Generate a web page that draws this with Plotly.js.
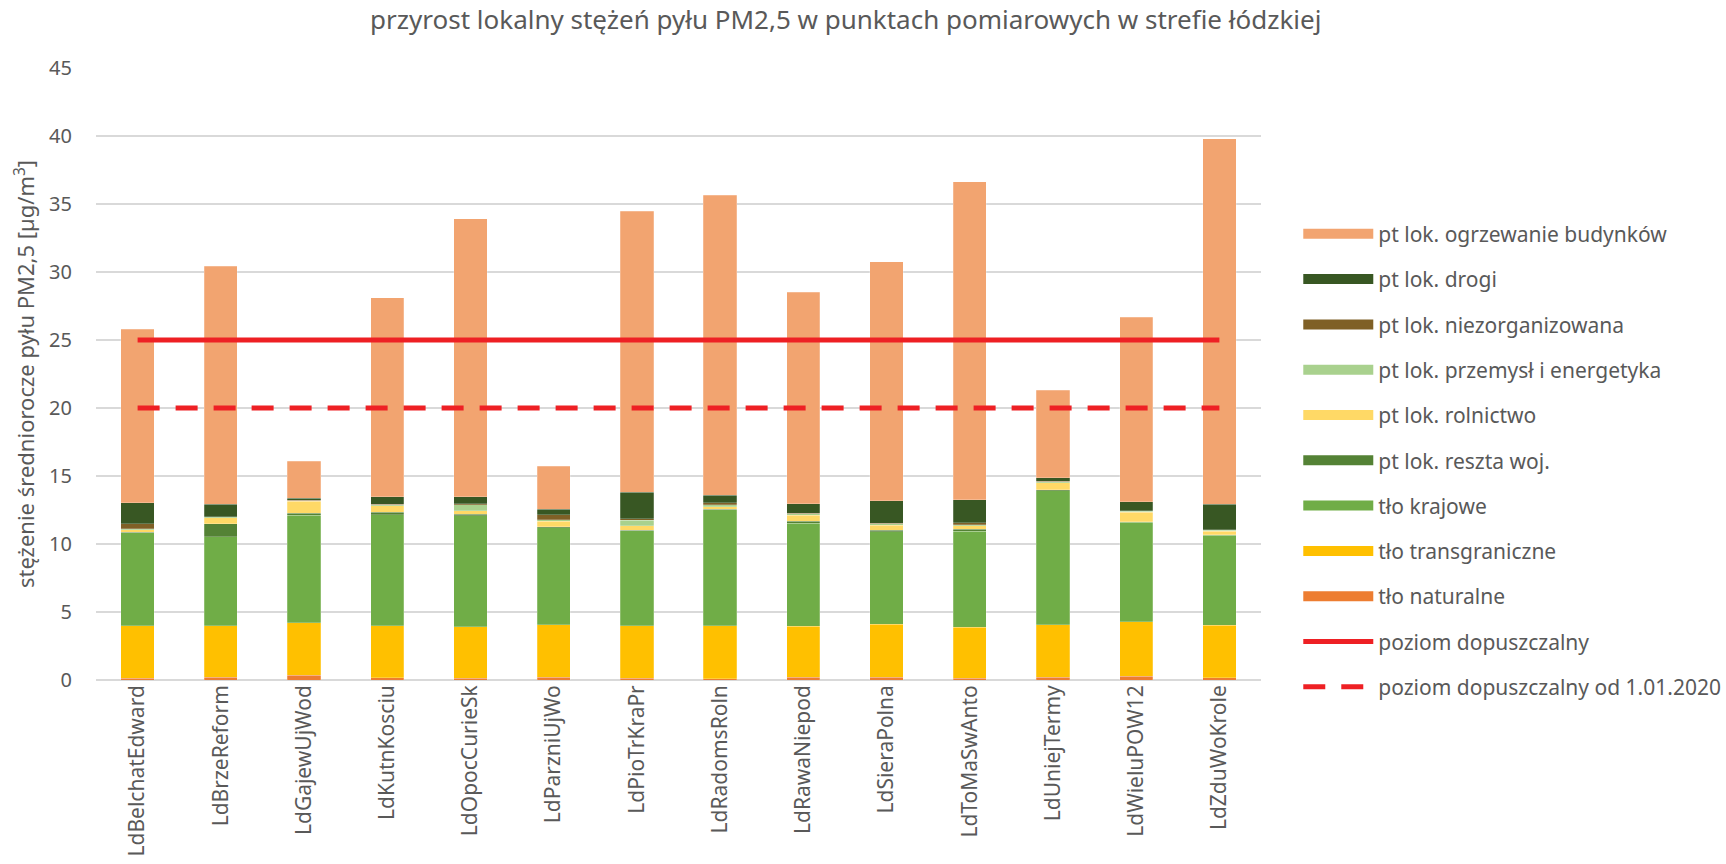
<!DOCTYPE html>
<html>
<head>
<meta charset="utf-8">
<script src="https://cdn.plot.ly/plotly-3.0.1.min.js"></script>
<style>
  html, body { margin: 0; padding: 0; background: #fff; }
  #chart { width: 1726px; height: 864px; }
</style>
</head>
<body>
<div id="chart"></div>
<script>
var stations = ['LdBelchatEdward', 'LdBrzeReform', 'LdGajewUjWod', 'LdKutnKosciu', 'LdOpocCurieSk',
  'LdParzniUjWo', 'LdPioTrKraPr', 'LdRadomsRoln', 'LdRawaNiepod', 'LdSieraPolna',
  'LdToMaSwAnto', 'LdUniejTermy', 'LdWieluPOW12', 'LdZduWoKrole'];

var tloNaturalne = [0.12, 0.20, 0.34, 0.15, 0.12, 0.22, 0.12, 0.10, 0.20, 0.20, 0.12, 0.20, 0.27, 0.15];
var tloTransgraniczne = [3.86, 3.80, 3.86, 3.83, 3.81, 3.86, 3.86, 3.88, 3.76, 3.90, 3.76, 3.88, 4.03, 3.88];
var tloKrajowe = [6.84, 6.53, 7.92, 8.17, 8.14, 7.11, 6.99, 8.53, 7.55, 6.80, 7.04, 9.85, 7.30, 6.60];
var resztaWoj = [0.05, 0.95, 0.15, 0.17, 0.13, 0.07, 0.05, 0.03, 0.17, 0.10, 0.15, 0.07, 0.03, 0.05];
var rolnictwo = [0.17, 0.44, 0.86, 0.49, 0.26, 0.42, 0.32, 0.20, 0.44, 0.38, 0.29, 0.52, 0.69, 0.26];
var przemysl = [0.10, 0.07, 0.05, 0.07, 0.42, 0.12, 0.41, 0.15, 0.10, 0.10, 0.07, 0.05, 0.10, 0.07];
var niezorganizowana = [0.34, 0.03, 0.02, 0.03, 0.07, 0.35, 0.12, 0.15, 0.03, 0.03, 0.15, 0.03, 0.03, 0.03];
var drogi = [1.57, 0.90, 0.15, 0.56, 0.54, 0.39, 1.94, 0.53, 0.71, 1.67, 1.69, 0.27, 0.66, 1.89];
var ogrzewanie = [12.75, 17.50, 2.75, 14.63, 20.41, 3.16, 20.66, 22.06, 15.55, 17.59, 23.38, 6.44, 13.57, 26.87];

var poziom = stations.map(function () { return 25; });
var poziom2020 = stations.map(function () { return 20; });

var grey = '#595959';
var font = 'Noto Sans, Open Sans, sans-serif';

var data = [];

// stacked bars, legend entries drawn by the wide swatches below
function addBar(name, values, color, rank) {
  data.push({
    x: stations,
    y: values,
    type: 'bar',
    name: name,
    showlegend: false,
    hoverinfo: 'none',
    marker: {
      color: color,
      line: { color: 'rgba(255,255,255,0.45)', width: 0.5 }
    }
  });
  // legend swatch (wide rectangle like the original)
  data.push({
    x: [null],
    y: [null],
    type: 'scatter',
    mode: 'lines',
    name: name,
    legendgroup: name,
    legendrank: rank,
    hoverinfo: 'none',
    line: { color: color, width: 14 }
  });
}

addBar('tło naturalne', tloNaturalne, '#ED7D31', 9);
addBar('tło transgraniczne', tloTransgraniczne, '#FFC000', 8);
addBar('tło krajowe', tloKrajowe, '#70AD47', 7);
addBar('pt lok. reszta woj.', resztaWoj, '#548235', 6);
addBar('pt lok. rolnictwo', rolnictwo, '#FFD966', 5);
addBar('pt lok. przemysł i energetyka', przemysl, '#A9D18E', 4);
addBar('pt lok. niezorganizowana', niezorganizowana, '#7F6026', 3);
addBar('pt lok. drogi', drogi, '#385723', 2);
addBar('pt lok. ogrzewanie budynków', ogrzewanie, '#F2A470', 1);

data.push({
  x: stations,
  y: poziom,
  type: 'scatter',
  mode: 'lines',
  name: 'poziom dopuszczalny',
  legendgroup: 'poziom',
  legendrank: 10,
  hoverinfo: 'none',
  line: { color: '#EE2024', width: 5 }
});
data.push({
  x: stations,
  y: poziom2020,
  type: 'scatter',
  mode: 'lines',
  name: 'poziom dopuszczalny od 1.01.2020',
  legendgroup: 'poziom2020',
  legendrank: 11,
  hoverinfo: 'none',
  line: { color: '#EE2024', width: 5, dash: '22px,16px' }
});

var layout = {
  width: 1726,
  height: 864,
  paper_bgcolor: '#fff',
  plot_bgcolor: '#fff',
  font: { family: font, color: grey },
  title: {
    text: 'przyrost lokalny stężeń pyłu PM2,5 w punktach pomiarowych w strefie łódzkiej',
    font: { size: 26, color: grey, family: font },
    x: 0.49,
    xanchor: 'center',
    y: 0.977,
    yanchor: 'middle'
  },
  barmode: 'stack',
  bargap: 0.6,
  margin: { l: 96, r: 465, t: 68, b: 184, autoexpand: false },
  showlegend: true,
  legend: {
    x: 1.032,
    xanchor: 'left',
    y: 0.762,
    yanchor: 'top',
    traceorder: 'grouped',
    tracegroupgap: 15,
    itemwidth: 70,
    font: { size: 21, color: grey, family: font }
  },
  xaxis: {
    type: 'category',
    tickangle: -90,
    tickfont: { size: 21, color: grey, family: font },
    showgrid: false,
    showline: false,
    ticks: '',
    zeroline: false
  },
  yaxis: {
    range: [0, 45],
    dtick: 5,
    tickfont: { size: 20, color: grey, family: font },
    ticklabelstandoff: 23,
    gridcolor: '#D9D9D9',
    gridwidth: 2,
    zeroline: true,
    zerolinecolor: '#D9D9D9',
    zerolinewidth: 2,
    ticks: '',
    ticklen: 0,
    title: {
      text: 'stężenie średniorocze pyłu PM2,5 [µg/m<sup>3</sup>]',
      font: { size: 22, color: grey, family: font },
      standoff: 8
    }
  }
};

Plotly.newPlot('chart', data, layout, { displayModeBar: false, staticPlot: true });
</script>
</body>
</html>
